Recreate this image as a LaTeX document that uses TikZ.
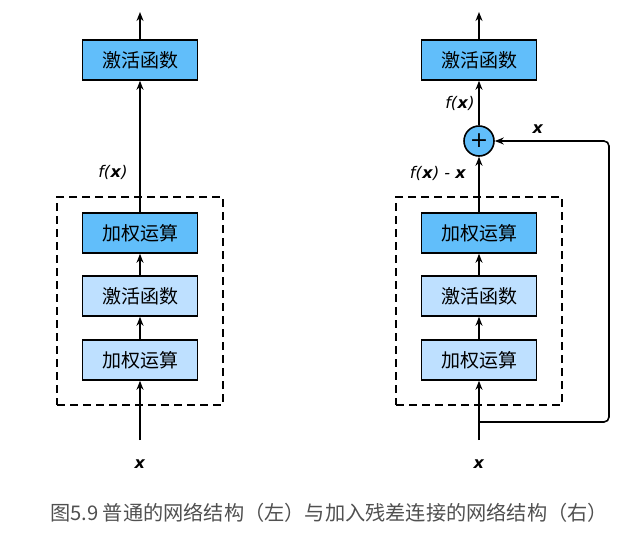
\documentclass[tikz,border=0pt]{standalone}
\usepackage{fontspec}
\setmainfont{Noto Sans CJK SC}
\newfontfamily\labelfont{DejaVu Sans}
\usetikzlibrary{arrows.meta,positioning}
\definecolor{dark-blue}{RGB}{97,190,250}
\definecolor{light-blue}{RGB}{190,224,255}
\definecolor{caption-gray}{RGB}{80,80,80}
\tikzset{
    dark-box/.style = {draw=black, fill=dark-blue, line width=1.6pt, rectangle, minimum width=115pt, minimum height=40pt, font=\fontsize{19}{22}\selectfont},
    light-box/.style = {dark-box, fill=light-blue},
    dashed-box/.style = {draw=black, line width=1.6pt, dash pattern=on 8pt off 5pt, minimum width=166pt, minimum height=208pt},
    arrow-line/.style = {draw=black, line width=1.6pt, -{Stealth[length=9pt,width=7pt]}},
    math-label/.style = {font=\labelfont\fontsize{16}{18}\selectfont},
}
\newcommand{\fx}{\textit{f(}\textbf{\textit{x}}\textit{)}}

\begin{document}
\begin{tikzpicture}[x=1pt, y=-1pt]
\useasboundingbox (0,0) rectangle (632,536);
% left: plain block
\node[dashed-box] (block-l) at (140,301) {};
\node[light-box] (w1-l) at (140,360) {加权运算};
\node[light-box] (act1-l) at (140,296) {激活函数};
\node[dark-box] (w2-l) at (140,233) {加权运算};
\node[dark-box] (act2-l) at (140,60) {激活函数};
\coordinate (in-l) at (140,440);
\coordinate (out-l) at (140,12);
\node[math-label] (x-l) at (140,464) {\textbf{\textit{x}}};
\node[math-label] (fx-l) at (113,172) {\fx};
\draw[arrow-line] (in-l) -- (w1-l);
\draw[arrow-line] (w1-l) -- (act1-l);
\draw[arrow-line] (act1-l) -- (w2-l);
\draw[arrow-line] (w2-l) -- (act2-l);
\draw[arrow-line] (act2-l) -- (out-l);
% right: residual block
\node[dashed-box] (block-r) at (479,301) {};
\node[light-box] (w1-r) at (479,360) {加权运算};
\node[light-box] (act1-r) at (479,296) {激活函数};
\node[dark-box] (w2-r) at (479,233) {加权运算};
\node[circle, draw=black, fill=dark-blue, line width=1.6pt, minimum size=30pt, inner sep=0pt, font=\labelfont\fontsize{22}{24}\selectfont] (add) at (479,141) {+};
\node[dark-box] (act2-r) at (479,60) {激活函数};
\coordinate (in-r) at (479,440);
\coordinate (split-r) at (479,422);
\coordinate (turn-r) at (609,141);
\coordinate (out-r) at (479,12);
\node[math-label] (x-r) at (479,464) {\textbf{\textit{x}}};
\node[math-label] (fxx-r) at (438,173) {\fx\ \textit{-}\ \textbf{\textit{x}}};
\node[math-label] (fx-r) at (460,103) {\fx};
\node[math-label] (skip-x) at (538,129) {\textbf{\textit{x}}};
\draw[arrow-line] (in-r) -- (w1-r);
\draw[arrow-line] (w1-r) -- (act1-r);
\draw[arrow-line] (act1-r) -- (w2-r);
\draw[arrow-line] (w2-r) -- (add);
\draw[arrow-line] (add) -- (act2-r);
\draw[arrow-line] (act2-r) -- (out-r);
\draw[arrow-line, rounded corners=5pt] (split-r) -| (turn-r) -- (add);
% caption
\node[text=caption-gray, font=\fontsize{20.2}{24}\selectfont] (caption) at (329,513) {图5.9 普通的网络结构（左）与加入残差连接的网络结构（右）};
\end{tikzpicture}
\end{document}
